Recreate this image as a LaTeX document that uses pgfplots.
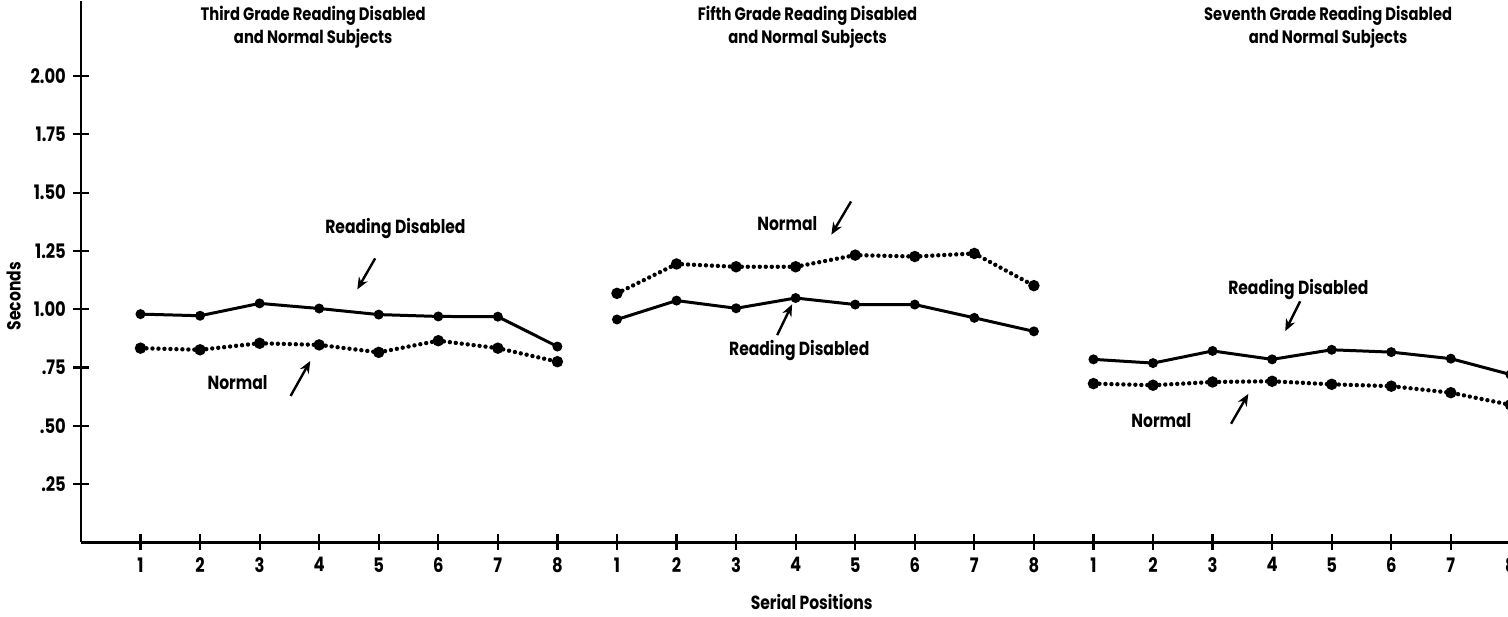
\documentclass[border=0pt]{standalone}
\usepackage{pgfplots}
\pgfplotsset{compat=1.18}
\usepackage{fontspec}
\setmainfont{Poppins}[FakeStretch=0.82]
\usetikzlibrary{arrows.meta}

% Mean response time by serial position, three grade levels side by side
% Third grade: positions 1-8, fifth grade: 9-16, seventh grade: 17-24
\pgfplotstableread{
x  y
1  0.979
2  0.972
3  1.025
4  1.003
5  0.977
6  0.969
7  0.968
8  0.840
}\thirdRD
\pgfplotstableread{
x  y
1  0.833
2  0.826
3  0.854
4  0.847
5  0.815
6  0.865
7  0.833
8  0.775
}\thirdN
\pgfplotstableread{
x  y
9  0.956
10 1.037
11 1.004
12 1.048
13 1.020
14 1.020
15 0.963
16 0.905
}\fifthRD
\pgfplotstableread{
x  y
9  1.068
10 1.194
11 1.182
12 1.182
13 1.232
14 1.226
15 1.239
16 1.101
}\fifthN
\pgfplotstableread{
x  y
17 0.785
18 0.769
19 0.821
20 0.785
21 0.826
22 0.816
23 0.788
24 0.720
}\seventhRD
\pgfplotstableread{
x  y
17 0.681
18 0.674
19 0.688
20 0.691
21 0.678
22 0.670
23 0.642
24 0.590
}\seventhN

\tikzset{
  lbl/.style={font=\bfseries\fontsize{9.5}{11}\selectfont},
  ttl/.style={font=\bfseries\fontsize{9}{11.5}\selectfont, align=center, inner sep=0pt},
  ptr/.style={-{Stealth[length=6pt,width=5pt]}, line width=1.2pt},
}

\begin{document}
\begin{tikzpicture}
\begin{axis}[
  scale only axis,
  width=716pt, height=271pt,
  xmin=0, xmax=24, ymin=0, ymax=2.32,
  axis x line=bottom, axis y line=left,
  axis line style={line width=1.4pt, -},
  xtick={1,...,24},
  xticklabels={1,2,3,4,5,6,7,8,1,2,3,4,5,6,7,8,1,2,3,4,5,6,7,8},
  ytick={0.25,0.5,0.75,1,1.25,1.5,1.75,2},
  yticklabels={.25,.50,.75,1.00,1.25,1.50,1.75,2.00},
  tick align=center,
  major tick length=8pt,
  tick style={line width=1.1pt, black},
  ticklabel style={font=\bfseries\fontsize{10}{12}\selectfont},
  xlabel={Serial Positions},
  ylabel={Seconds},
  xlabel style={font=\bfseries\fontsize{9.5}{11}\selectfont, xshift=8pt, yshift=-4pt},
  ylabel style={font=\bfseries\fontsize{9.5}{11}\selectfont, at={(axis description cs:-0.047,0.455)}, anchor=center},
  clip=false,
  rdline/.style={black, line width=1.5pt, mark=*, mark size=1.7pt},
  nline/.style={black, line width=2.2pt, line cap=round, dash pattern=on 0pt off 3pt,
                mark=*, mark size=1.7pt, mark options={solid}},
]
\addplot[rdline] table[x=x,y=y] {\thirdRD};
\addplot[nline]  table[x=x,y=y] {\thirdN};
\addplot[rdline] table[x=x,y=y] {\fifthRD};
\addplot[nline]  table[x=x,y=y] {\fifthN};
\addplot[rdline] table[x=x,y=y] {\seventhRD};
\addplot[nline]  table[x=x,y=y] {\seventhN};

% panel titles
\node[ttl] at (axis cs:3.90,2.21) {Third Grade Reading Disabled\\and Normal Subjects};
\node[ttl] at (axis cs:12.20,2.21) {Fifth Grade Reading Disabled\\and Normal Subjects};
\node[ttl] at (axis cs:20.94,2.21) {Seventh Grade Reading Disabled\\and Normal Subjects};

% series labels with pointers
\node[lbl] at (axis cs:5.28,1.346) {Reading Disabled};
\draw[ptr] (axis cs:4.94,1.218) -- (axis cs:4.64,1.085);
\node[lbl] at (axis cs:2.63,0.684) {Normal};
\draw[ptr] (axis cs:3.52,0.628) -- (axis cs:3.85,0.778);

\node[lbl] at (axis cs:11.86,1.368) {Normal};
\draw[ptr] (axis cs:12.93,1.462) -- (axis cs:12.60,1.320);
\node[lbl] at (axis cs:12.06,0.821) {Reading Disabled};
\draw[ptr] (axis cs:11.69,0.889) -- (axis cs:11.94,1.021);

\node[lbl] at (axis cs:20.44,1.085) {Reading Disabled};
\draw[ptr] (axis cs:20.47,1.034) -- (axis cs:20.22,0.906);
\node[lbl] at (axis cs:18.14,0.521) {Normal};
\draw[ptr] (axis cs:19.31,0.509) -- (axis cs:19.60,0.637);

% right edge of the page sits just before the last position
\coordinate (rightedge) at (axis cs:23.96,0);
\end{axis}
\coordinate (bbSW) at (current bounding box.south west);
\coordinate (bbNE) at (current bounding box.north east);
\pgfresetboundingbox
\path[use as bounding box] (bbSW) rectangle (rightedge |- bbNE);
\end{tikzpicture}
\end{document}
